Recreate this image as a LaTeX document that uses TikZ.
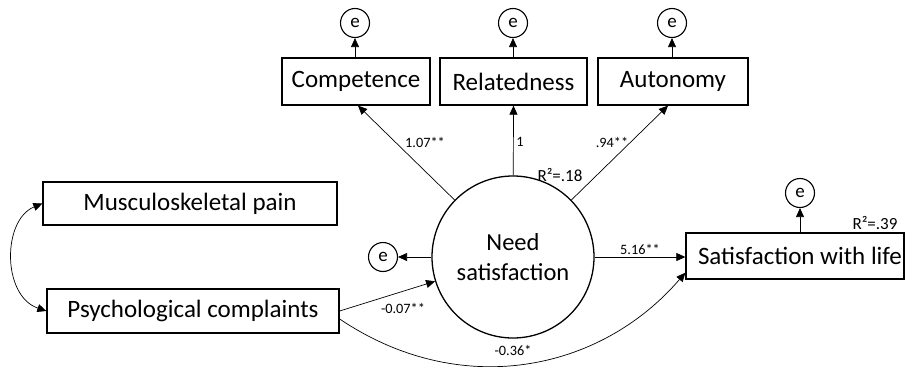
\documentclass[tikz,border=0pt]{standalone}
\usepackage{fontspec}
\setmainfont{Carlito}
\usetikzlibrary{arrows.meta,calc}
\begin{document}
\begin{tikzpicture}[x=1pt,y=-1pt,
  box/.style={draw,line width=1.3pt,inner sep=0pt,font=\fontsize{25}{27}\selectfont},
  err/.style={draw,circle,line width=1.1pt,minimum size=29pt,inner sep=0pt,font=\fontsize{19}{20}\selectfont},
  arr/.style={line width=0.7pt,-{Triangle[length=9pt,width=8pt]}},
  darr/.style={line width=0.7pt,{Triangle[length=9pt,width=8pt]}-{Triangle[length=9pt,width=8pt]}},
  lab/.style={font=\fontsize{14.3}{16}\selectfont,inner sep=1pt},
  rsq/.style={font=\fontsize{17}{19}\selectfont,inner sep=1pt}]
\useasboundingbox (0,0) rectangle (906,367);
% boxes
\node[box,minimum width=148pt,minimum height=47pt] (comp) at (356,81.5) {Competence};
\node[box,minimum width=147pt,minimum height=47pt] (rel) at (513.5,81.5) {Relatedness};
\node[box,minimum width=150pt,minimum height=47pt] (aut) at (673,81.5) {Autonomy};
\node[box,minimum width=294pt,minimum height=43pt] (musc) at (190,203.5) {Musculoskeletal pain};
\node[box,minimum width=292pt,minimum height=44pt] (psych) at (193,311) {Psychological complaints};
\node[box,minimum width=218pt,minimum height=46pt] (swl) at (795,256) {\makebox[194pt][l]{Satisfaction with life}};
% latent
\node[draw,circle,line width=1.3pt,minimum size=162pt,inner sep=0pt,align=center,font=\fontsize{24.5}{30}\selectfont] (need) at (513,257) {Need\\satisfaction};
% errors
\node[err] (ec) at (355,23) {e};
\node[err] (er) at (513,23) {e};
\node[err] (ea) at (672,23) {e};
\node[err] (en) at (383,257) {e};
\node[err] (es) at (800,193) {e};
% error arrows
\draw[arr] (comp.north -| ec) -- (ec);
\draw[arr] (rel.north -| er) -- (er);
\draw[arr] (aut.north -| ea) -- (ea);
\draw[arr] (swl.north -| es) -- (es);
\draw[arr] (need) -- (en);
% loadings
\draw[arr] (need) -- ([xshift=2pt]comp.south);
\draw[arr] (need) -- (rel.south);
\draw[arr] (need) -- ([xshift=-5pt]aut.south);
\node[lab] (l1) at (425,142) {1.07**};
\node[lab] (l2) at (520,142) {1};
\node[lab] (l3) at (612,142) {.94**};
\node[rsq] (r1) at (560,175) {R²=.18};
% structural paths
\draw[arr] (need) -- (swl.west |- need);
\node[lab] (l4) at (640,249) {5.16**};
\draw[arr] (psych.east) -- (need);
\node[lab] (l5) at (403,308) {-0.07**};
\draw[arr] ([yshift=-8pt]psych.east) .. controls (460,400) and (600,372) .. ([yshift=7pt]swl.south west);
\node[lab] (l6) at (513,350) {-0.36*};
\node[rsq] (r2) at (875,223) {R²=.39};
% covariance
\draw[darr] (musc.west) .. controls (2,220) and (2,296) .. (psych.west);
\end{tikzpicture}
\end{document}
